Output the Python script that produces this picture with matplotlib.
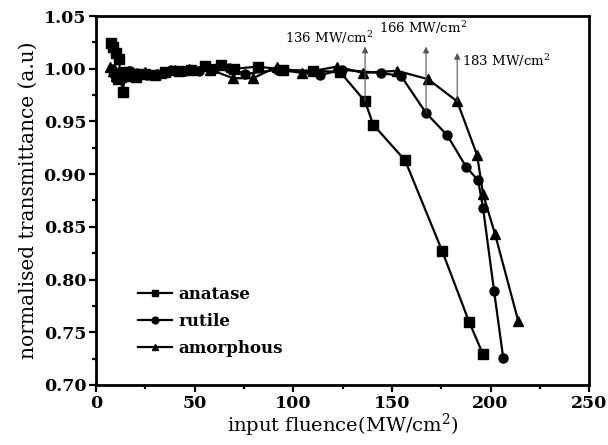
import matplotlib
matplotlib.use("Agg")
import matplotlib.pyplot as plt
from matplotlib.ticker import MultipleLocator

plt.rcParams['font.family'] = ['DejaVu Serif']
plt.rcParams['mathtext.fontset'] = 'dejavuserif'

# input fluence (MW/cm^2) and normalised transmittance for each phase
anatase_x = [7.5, 8.5, 10.0, 11.5, 12.5, 13.5, 15.0, 17.0, 20.0, 25.0, 30.0, 35.0,
             42.0, 48.0, 55.3, 63.4, 70.0, 82.2, 95.0, 110.0, 123.7, 136.4, 140.5,
             156.7, 175.5, 189.1, 196.2]
anatase_y = [1.024, 1.021, 1.015, 1.009, 0.992, 0.978, 0.997, 0.993, 0.992, 0.995,
             0.994, 0.997, 0.998, 0.999, 1.003, 1.004, 1.000, 1.002, 0.999, 0.998,
             0.997, 0.969, 0.947, 0.913, 0.827, 0.760, 0.729]

rutile_x = [8.0, 9.0, 10.0, 12.0, 14.0, 17.0, 21.0, 26.0, 31.0, 38.0, 45.0, 52.0,
            60.0, 67.4, 75.6, 92.0, 113.6, 124.7, 144.5, 154.7, 167.3, 178.0, 187.6,
            193.7, 196.2, 201.8, 206.4]
rutile_y = [1.000, 0.995, 0.990, 0.997, 0.995, 0.998, 0.996, 0.994, 0.995, 0.999,
            0.998, 0.998, 1.000, 1.001, 0.995, 0.999, 0.994, 0.999, 0.996, 0.993,
            0.958, 0.937, 0.907, 0.894, 0.868, 0.789, 0.726]

amorphous_x = [7.0, 8.5, 10.0, 11.0, 13.0, 16.0, 20.0, 25.0, 33.0, 40.0, 47.0, 58.0,
               69.5, 79.6, 91.8, 104.5, 122.2, 135.4, 152.6, 168.4, 183.1, 193.2,
               196.2, 202.3, 214.0]
amorphous_y = [1.002, 0.998, 0.993, 0.990, 0.995, 0.998, 0.995, 0.997, 0.996, 0.999,
               1.000, 0.999, 0.991, 0.991, 1.002, 0.996, 1.002, 0.996, 0.998, 0.990,
               0.969, 0.918, 0.881, 0.843, 0.761]

# threshold annotations: (fluence, transmittance at the point, arrow tip, text)
thresh_x = [136.4, 167.3, 183.1]
thresh_y = [0.969, 0.958, 0.969]
thresh_tip = [1.021, 1.021, 1.015]
thresh_labels = ['136 MW/cm$^2$', '166 MW/cm$^2$', '183 MW/cm$^2$']

fig = plt.figure(figsize=(6.08, 4.45), dpi=100)
ax = fig.add_axes([0.158, 0.135, 0.811, 0.829])

style = dict(color='black', lw=1.6, markersize=6.5)
ax.plot(anatase_x, anatase_y, marker='s', label='anatase', **style)
ax.plot(rutile_x, rutile_y, marker='o', label='rutile', **style)
ax.plot(amorphous_x, amorphous_y, marker='^', label='amorphous', **style)

for x, y, tip in zip(thresh_x, thresh_y, thresh_tip):
    ax.annotate('', xy=(x, tip), xytext=(x, y),
                arrowprops=dict(arrowstyle='-|>', color='#555555', lw=0.8,
                                mutation_scale=9, shrinkA=0, shrinkB=0))

ax.text(118, 1.022, thresh_labels[0], ha='center', va='bottom', fontsize=9.5)
ax.text(166, 1.031, thresh_labels[1], ha='center', va='bottom', fontsize=9.5)
ax.text(185.5, 1.000, thresh_labels[2], ha='left', va='bottom', fontsize=9.5)

ax.set_xlim(0, 250)
ax.set_ylim(0.70, 1.05)
ax.xaxis.set_major_locator(MultipleLocator(50))
ax.xaxis.set_minor_locator(MultipleLocator(25))
ax.yaxis.set_major_locator(MultipleLocator(0.05))
ax.yaxis.set_minor_locator(MultipleLocator(0.025))
ax.yaxis.set_major_formatter(plt.FuncFormatter(lambda v, p: f'{v:.2f}'))

ax.tick_params(which='both', direction='out', top=False, right=False, width=1.6)
ax.tick_params(which='major', length=5, labelsize=12.5, pad=2)
ax.tick_params(which='minor', length=3)
for lab in ax.get_xticklabels() + ax.get_yticklabels():
    lab.set_fontweight('bold')
for sp in ax.spines.values():
    sp.set_linewidth(2.0)

ax.set_xlabel('input fluence(MW/cm$^2$)', fontsize=14, labelpad=0)
ax.set_ylabel('normalised transmittance (a.u)', fontsize=14.5, labelpad=4)

leg = ax.legend(loc='lower left', bbox_to_anchor=(0.055, 0.035), frameon=False,
                prop=dict(size=12, weight='bold'), handlelength=2.0,
                labelspacing=0.6, handletextpad=0.4, markerscale=0.75)

fig.savefig('out.png', dpi=100)
